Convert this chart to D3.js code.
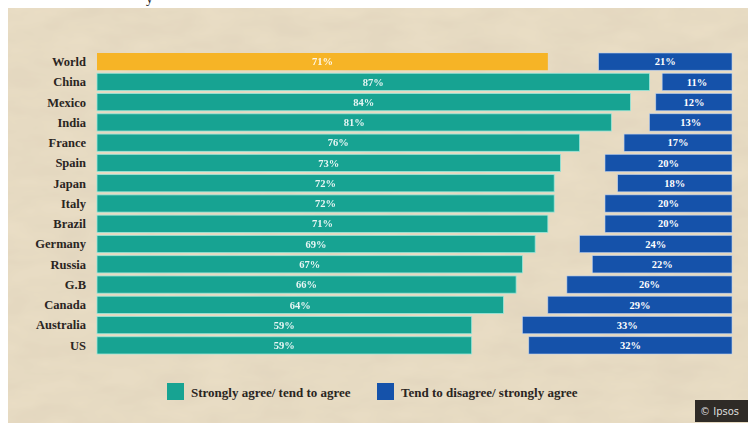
<!DOCTYPE html>
<html>
<head>
<meta charset="utf-8">
<script src="https://cdn.jsdelivr.net/npm/d3@7"></script>
<style>
  body { margin: 0; background: #fff; }
  svg { display: block; }
</style>
</head>
<body>
<div id="chart"></div>
<script>
// data
const countries = ["World", "China", "Mexico", "India", "France", "Spain", "Japan", "Italy",
  "Brazil", "Germany", "Russia", "G.B", "Canada", "Australia", "US"];
const agree = [71, 87, 84, 81, 76, 73, 72, 72, 71, 69, 67, 66, 64, 59, 59];
const disagree = [21, 11, 12, 13, 17, 20, 18, 20, 20, 24, 22, 26, 29, 33, 32];
const legendLabels = ["Strongly agree/ tend to agree", "Tend to disagree/ strongly agree"];

const W = 748, H = 426;
const left = 97, right = 732;
const teal = "#17a392", blue = "#1552aa", gold = "#f6b426";
const serif = "'Liberation Serif', 'DejaVu Serif', serif";

const svg = d3.select("#chart").append("svg")
  .attr("width", W).attr("height", H);

// paper texture
const defs = svg.append("defs");
const f = defs.append("filter").attr("id", "paper").attr("x", 0).attr("y", 0).attr("width", 1).attr("height", 1);
f.append("feTurbulence").attr("type", "fractalNoise").attr("baseFrequency", "0.02 0.05")
  .attr("numOctaves", 3).attr("seed", 4).attr("result", "n");
f.append("feColorMatrix").attr("in", "n").attr("type", "matrix")
  .attr("values", "0 0 0 0 0.55  0 0 0 0 0.48  0 0 0 0 0.38  0 0 0 0.28 0").attr("result", "t");
f.append("feComposite").attr("in", "t").attr("in2", "SourceGraphic").attr("operator", "atop");

svg.append("rect").attr("x", 8).attr("y", 8).attr("width", W - 8).attr("height", H - 11)
  .attr("fill", "#ebdfc6").attr("filter", "url(#paper)");

// cut-off title glyph at the very top
svg.append("text").attr("x", 146).attr("y", 3).attr("font-family", serif).attr("font-size", 14)
  .attr("fill", "#222").text("y");

const x = d3.scaleLinear().domain([0, 100]).range([0, 635]);
const y = d3.scaleBand().domain(countries).range([53, 354]).paddingInner(0.15).paddingOuter(0.0);

const rows = svg.append("g").selectAll("g").data(countries).join("g")
  .attr("transform", d => `translate(0,${y(d)})`);

rows.append("text")
  .attr("x", 86).attr("y", y.bandwidth() / 2).attr("dy", "0.35em")
  .attr("text-anchor", "end").attr("font-family", serif).attr("font-weight", "bold")
  .attr("font-size", 12.5).attr("fill", "#2a2522").text(d => d);

// agree bars
rows.append("rect")
  .attr("x", left).attr("width", (d, i) => x(agree[i])).attr("height", y.bandwidth())
  .attr("fill", (d, i) => i === 0 ? gold : teal)
  .attr("stroke", (d, i) => i === 0 ? "none" : "#9be6da").attr("stroke-width", 0.8);
rows.append("text")
  .attr("x", (d, i) => left + x(agree[i]) / 2).attr("y", y.bandwidth() / 2).attr("dy", "0.35em")
  .attr("text-anchor", "middle").attr("font-family", serif).attr("font-weight", "bold")
  .attr("font-size", 10.5).attr("fill", "#fff").attr("opacity", 0.9)
  .text((d, i) => agree[i] + "%");

// disagree bars
rows.append("rect")
  .attr("x", (d, i) => right - x(disagree[i])).attr("width", (d, i) => x(disagree[i]))
  .attr("height", y.bandwidth()).attr("fill", blue)
  .attr("stroke", "#b9cff0").attr("stroke-width", 0.6);
rows.append("text")
  .attr("x", (d, i) => right - x(disagree[i]) / 2).attr("y", y.bandwidth() / 2).attr("dy", "0.35em")
  .attr("text-anchor", "middle").attr("font-family", serif).attr("font-weight", "bold")
  .attr("font-size", 10.5).attr("fill", "#fff")
  .text((d, i) => disagree[i] + "%");

// legend
const legend = svg.append("g").selectAll("g").data(legendLabels).join("g")
  .attr("transform", (d, i) => `translate(${[167, 377][i]},383)`);
legend.append("rect").attr("width", 17).attr("height", 17)
  .attr("fill", (d, i) => [teal, blue][i]);
legend.append("text").attr("x", 24).attr("y", 9).attr("dy", "0.35em")
  .attr("font-family", serif).attr("font-weight", "bold").attr("font-size", 13)
  .attr("fill", "#2a2522").text(d => d);

// ipsos badge
svg.append("rect").attr("x", 695).attr("y", 400).attr("width", 53).attr("height", 22).attr("fill", "#2f2b27");
svg.append("text").attr("x", 700).attr("y", 411).attr("dy", "0.35em")
  .attr("font-family", "'DejaVu Sans', sans-serif").attr("font-size", 10).attr("fill", "#ddd")
  .text("\u00a9 Ipsos");
</script>
</body>
</html>
